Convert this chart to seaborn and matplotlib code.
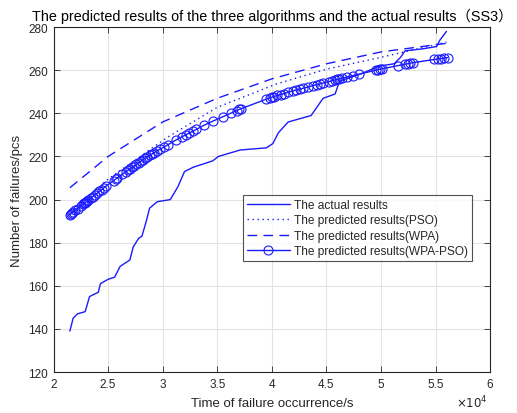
import numpy as np
import pandas as pd
import matplotlib
matplotlib.use("Agg")
import matplotlib.pyplot as plt
import seaborn as sns
from matplotlib.ticker import FuncFormatter

# ---------------- data (times in units of 1e4 s) ----------------
actual_t = [2.15, 2.18, 2.22, 2.29, 2.33, 2.41, 2.43, 2.50, 2.56, 2.61, 2.70, 2.73,
            2.78, 2.81, 2.85, 2.88, 2.95, 3.07, 3.14, 3.20, 3.28, 3.46, 3.51, 3.71,
            3.95, 4.01, 4.06, 4.15, 4.36, 4.47, 4.58, 4.62, 4.80, 4.99, 5.12, 5.18,
            5.22, 5.39, 5.51, 5.54, 5.60]
actual_y = [139, 145, 147, 148, 155, 157, 161, 163, 164, 169, 172, 178,
            182, 183, 190, 196, 199, 200, 206, 213, 215, 218, 220, 223,
            224, 226, 231, 236, 239, 247, 249, 255, 258, 262, 263, 266,
            269, 270, 271, 274, 278]

pso_t = [2.15, 2.50, 3.04, 3.50, 4.04, 4.50, 5.00, 5.60]
pso_y = [193.5, 209.5, 228.8, 242.8, 253.6, 260.5, 266.0, 273.0]

wpa_t = [2.15, 2.50, 3.00, 3.50, 4.00, 4.50, 5.00, 5.60]
wpa_y = [205.5, 220.0, 236.0, 247.0, 256.0, 263.0, 268.5, 272.5]

wpapso_t = [2.15, 2.16, 2.17, 2.18, 2.20, 2.22, 2.25, 2.27, 2.28, 2.29, 2.30, 2.31,
            2.32, 2.34, 2.36, 2.38, 2.40, 2.42, 2.44, 2.46, 2.48, 2.55, 2.57, 2.58,
            2.63, 2.66, 2.68, 2.70, 2.72, 2.74, 2.76, 2.78, 2.80, 2.82, 2.84, 2.86,
            2.88, 2.90, 2.92, 2.95, 2.98, 3.01, 3.05, 3.12, 3.18, 3.21, 3.24, 3.28,
            3.31, 3.38, 3.46, 3.55, 3.63, 3.68, 3.70, 3.72, 3.95, 3.98, 4.00, 4.02,
            4.05, 4.08, 4.11, 4.15, 4.19, 4.22, 4.26, 4.29, 4.33, 4.38, 4.41, 4.44,
            4.47, 4.52, 4.55, 4.58, 4.60, 4.62, 4.64, 4.69, 4.74, 4.80, 4.95, 4.97,
            4.99, 5.01, 5.16, 5.22, 5.25, 5.27, 5.29, 5.49, 5.52, 5.55, 5.58, 5.61]
wpapso_y = [193.0, 193.4, 193.8, 194.2, 195.0, 195.8, 197.0, 197.8, 198.2, 198.6, 199.0, 199.4,
            199.8, 200.6, 201.4, 202.2, 203.0, 203.8, 204.6, 205.4, 206.2, 208.8, 209.5, 209.9,
            211.7, 212.8, 213.5, 214.2, 214.9, 215.6, 216.4, 217.1, 217.8, 218.5, 219.2, 219.9,
            220.5, 221.1, 221.7, 222.6, 223.5, 224.3, 225.5, 227.6, 229.2, 230.0, 230.8, 231.8,
            232.6, 234.5, 236.4, 238.4, 240.2, 241.3, 241.8, 242.2, 246.6, 247.1, 247.5, 247.8,
            248.3, 248.7, 249.2, 249.8, 250.4, 250.8, 251.3, 251.7, 252.2, 252.9, 253.3, 253.7,
            254.1, 254.7, 255.1, 255.5, 255.8, 256.0, 256.3, 256.9, 257.5, 258.2, 260.0, 260.3,
            260.5, 260.7, 262.2, 262.8, 263.1, 263.3, 263.5, 265.0, 265.2, 265.4, 265.6, 265.9]

labels = ["The actual results", "The predicted results(PSO)",
          "The predicted results(WPA)", "The predicted results(WPA-PSO)"]
title = "The predicted results of the three algorithms and the actual results（SS3）"
xlabel = "Time of failure occurrence/s"
ylabel = "Number of failures/pcs"
x_ticks = [2, 2.5, 3, 3.5, 4, 4.5, 5, 5.5, 6]
y_ticks = [120, 140, 160, 180, 200, 220, 240, 260, 280]

SCALE = 1e4

# ---------------- style ----------------
sns.set_theme(style="ticks")
plt.rcParams["font.family"] = ["Liberation Sans", "Noto Sans CJK SC", "DejaVu Sans"]
plt.rcParams["axes.unicode_minus"] = False

fig = plt.figure(figsize=(5.17, 4.14), dpi=100)
ax = fig.add_axes([0.1035, 0.099, 0.8445, 0.833])

blue = (0.1, 0.1, 1.0)

def df(t, y):
    return pd.DataFrame({"t": np.asarray(t) * SCALE, "y": y})

sns.lineplot(data=df(actual_t, actual_y), x="t", y="y", ax=ax, color=blue,
             linewidth=1.0, estimator=None, sort=False, label=labels[0])
sns.lineplot(data=df(pso_t, pso_y), x="t", y="y", ax=ax, color=blue,
             linewidth=1.0, estimator=None, sort=False, label=labels[1])
ax.lines[-1].set_dashes((1, 2.6))
sns.lineplot(data=df(wpa_t, wpa_y), x="t", y="y", ax=ax, color=blue,
             linewidth=1.0, estimator=None, sort=False, label=labels[2])
ax.lines[-1].set_dashes((7, 4.5))
sns.lineplot(data=df(wpapso_t, wpapso_y), x="t", y="y", ax=ax, color=blue,
             linewidth=1.0, estimator=None, sort=False, label=labels[3],
             marker="o", markersize=6.5, markerfacecolor="none",
             markeredgecolor=blue, markeredgewidth=0.8)

ax.set_xlim(2 * SCALE, 6 * SCALE)
ax.set_ylim(120, 280)
ax.set_xticks([v * SCALE for v in x_ticks])
ax.set_yticks(y_ticks)
ax.xaxis.set_major_formatter(FuncFormatter(lambda v, p: f"{v / SCALE:g}"))
ax.text(0.995, -0.103, r"$\times10^{4}$", transform=ax.transAxes, ha="right",
        va="baseline", fontsize=8.5, color="#262626")

ax.grid(True, color="#e3e3e3", linewidth=0.8)
ax.set_axisbelow(True)
for s in ax.spines.values():
    s.set_visible(True)
    s.set_color("#262626")
    s.set_linewidth(0.8)
ax.tick_params(axis="both", which="both", direction="in", length=4, width=0.6,
               top=True, right=True, labelsize=8.5, labelcolor="#262626",
               color="#262626", pad=4)

ax.set_xlabel(xlabel, fontsize=9.5, color="#262626", labelpad=5)
ax.set_ylabel(ylabel, fontsize=9.5, color="#262626", labelpad=4)
ax.set_title(title, fontsize=10.4, color="#000000", pad=5)

leg = ax.legend(loc="upper left", bbox_to_anchor=(0.434, 0.513), fontsize=8.6,
                frameon=True, fancybox=False, edgecolor="#262626",
                handlelength=3.6, borderpad=0.3, labelspacing=0.3,
                handletextpad=0.4, borderaxespad=0)
leg.get_frame().set_linewidth(0.8)

fig.savefig("out.png", dpi=100)
